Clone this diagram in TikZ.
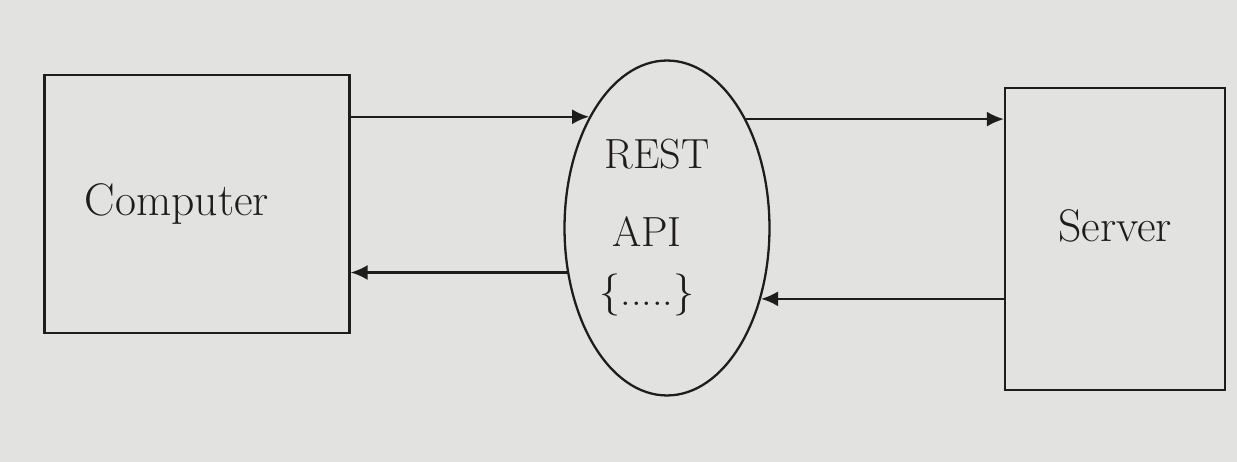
\documentclass[tikz,border=0pt]{standalone}
\usetikzlibrary{shapes.geometric,arrows.meta}
\definecolor{paper}{RGB}{226,226,224}
\definecolor{ink}{RGB}{30,28,28}
\begin{document}
\begin{tikzpicture}[x=0.02cm,y=-0.02cm,
  ink line/.style={draw=ink,line width=1.3pt},
  boxnode/.style={ink line,rectangle,inner sep=0pt,font=\fontsize{26}{30}\selectfont,text=ink},
  apinode/.style={ink line,ellipse,inner sep=0pt,minimum width=4.1cm,minimum height=6.7cm,
     align=center,font=\fontsize{24}{34}\selectfont,text=ink},
  link/.style={ink line,-{Latex[length=0.34cm,width=0.3cm]}}]
\fill[paper] (0,0) rectangle (1237,462);
\useasboundingbox (0,0) rectangle (1237,462);
\node[boxnode,minimum width=6.1cm,minimum height=5.16cm] (comp) at (197,204) {\hspace*{-0.8cm}Computer};
\node[apinode] (api) at (667,228) {\hspace*{-0.4cm}REST\\[10pt]\hspace*{-0.8cm}API\\\hspace*{-0.8cm}\{.....\}};
\node[boxnode,minimum width=4.4cm,minimum height=6.04cm] (serv) at (1115,239) {\raisebox{0.55cm}{Server}};
\draw[link] (api.125 -| comp.east) -- (api.125);
\draw[link] (api.54) -- (api.54 -| serv.west);
\draw[link] (api.-37 -| serv.west) -- (api.-37);
\draw[link] (api.204) -- (api.204 -| comp.east);
\end{tikzpicture}
\end{document}
